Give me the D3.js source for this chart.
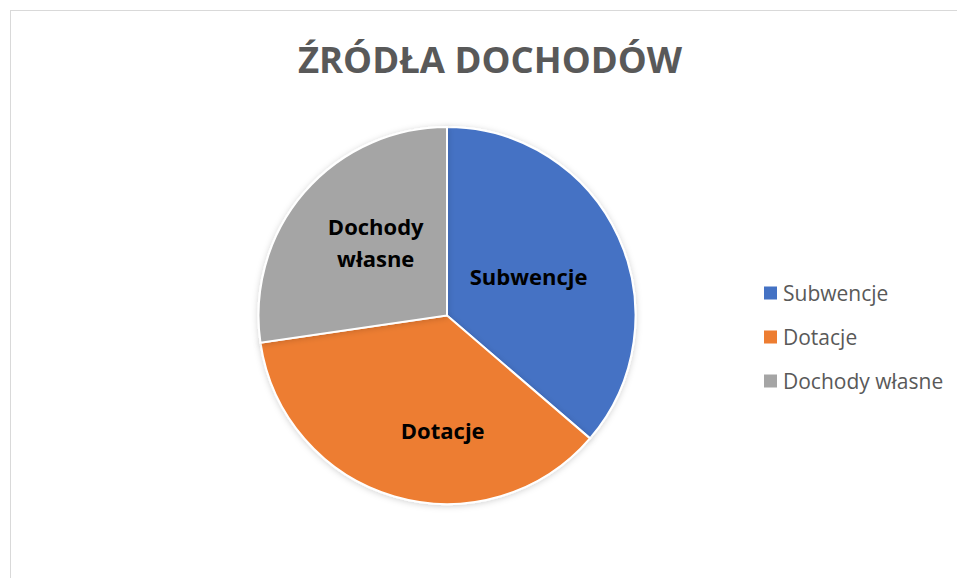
<!DOCTYPE html>
<html>
<head>
<meta charset="utf-8">
<script src="https://cdn.jsdelivr.net/npm/d3@7"></script>
<style>
  body { margin: 0; background: #fff; }
  svg { display: block; font-family: "Open Sans", sans-serif; }
</style>
</head>
<body>
<div id="chart"></div>
<script>
// chart data
const categories = ['Subwencje', 'Dotacje', 'Dochody własne'];
const values = [36.3, 36.4, 27.3];
const sliceLabels = [['Subwencje'], ['Dotacje'], ['Dochody', 'własne']];
const colors = ['#4472C4', '#ED7D31', '#A5A5A5'];

const width = 957, height = 578;

const svg = d3.select('#chart').append('svg')
    .attr('width', width)
    .attr('height', height);

// chart frame
svg.append('rect')
    .attr('x', 10.5).attr('y', 10.5)
    .attr('width', width + 10).attr('height', height + 10)
    .attr('fill', '#fff')
    .attr('stroke', '#d9d9d9')
    .attr('stroke-width', 1);

// soft shadow like office charts
const defs = svg.append('defs');
defs.append('filter').attr('id', 'shadow')
    .attr('x', '-10%').attr('y', '-10%').attr('width', '120%').attr('height', '120%')
  .append('feDropShadow')
    .attr('dx', 0).attr('dy', 1)
    .attr('stdDeviation', 3)
    .attr('flood-color', '#000')
    .attr('flood-opacity', 0.18);

// title
svg.append('text')
    .attr('x', 490).attr('y', 73)
    .attr('text-anchor', 'middle')
    .attr('font-size', 36.5)
    .attr('font-weight', 700)
    .attr('fill', '#595959')
    .text('ŹRÓDŁA DOCHODÓW');

const cx = 447, cy = 315.5, radius = 188.5;

const pie = d3.pie().sort(null).value(d => d);
const arcs = pie(values);
const arc = d3.arc().innerRadius(0).outerRadius(radius);

const g = svg.append('g').attr('transform', 'translate(' + cx + ',' + cy + ')');

g.selectAll('path.slice')
    .data(arcs)
    .enter().append('path')
        .attr('class', 'slice')
        .attr('d', arc)
        .attr('fill', (d, i) => colors[i])
        .attr('stroke', '#fff')
        .attr('stroke-width', 2)
        .attr('filter', 'url(#shadow)');

// labels inside the slices
const labelArc = d3.arc().innerRadius(radius * 0.5).outerRadius(radius * 0.5);
const labelOffsets = [[-4, 1], [22, 25], [0, -11]];

arcs.forEach(function(d, i) {
    let c = labelArc.centroid(d);
    let lines = sliceLabels[i];
    let t = g.append('text')
        .attr('text-anchor', 'middle')
        .attr('font-size', 22)
        .attr('font-weight', 700)
        .attr('fill', '#000');
    lines.forEach(function(line, j) {
        t.append('tspan')
            .attr('x', c[0] + labelOffsets[i][0])
            .attr('y', c[1] + labelOffsets[i][1] + (j - (lines.length - 1) / 2) * 32 + 8)
            .text(line);
    });
});

// legend
const legendY = d3.scalePoint().domain(categories).range([293, 381]);

const legend = svg.append('g').selectAll('g')
    .data(categories)
    .enter().append('g')
        .attr('transform', d => 'translate(764,' + legendY(d) + ')');

legend.append('rect')
    .attr('x', 0).attr('y', -6.5)
    .attr('width', 13).attr('height', 13)
    .attr('fill', (d, i) => colors[i]);

legend.append('text')
    .attr('x', 19).attr('y', 7.5)
    .attr('font-size', 21)
    .attr('fill', '#595959')
    .text(d => d);
</script>
</body>
</html>
